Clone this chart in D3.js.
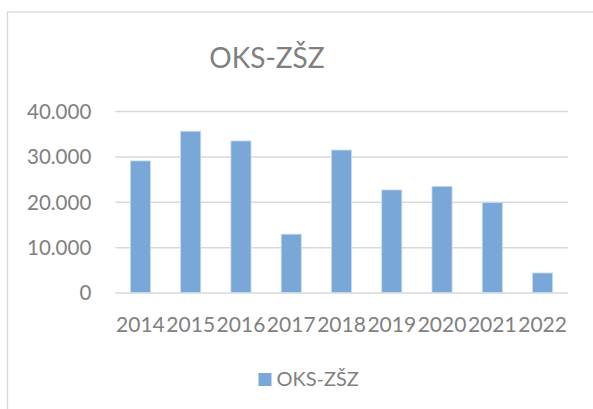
<!DOCTYPE html>
<html>
<head>
<meta charset="utf-8">
<script src="https://cdn.jsdelivr.net/npm/d3@7"></script>
<style>
body{margin:0;background:#fff;}
text{font-family:Lato,"Open Sans",sans-serif;fill:#808080;}
</style>
</head>
<body>
<script>
var years=["2014","2015","2016","2017","2018","2019","2020","2021","2022"];
var values=[29000,35550,33400,12850,31400,22600,23400,19800,4300];
var yticks=[0,10000,20000,30000,40000];
var seriesname="OKS-ZŠZ";

var W=593,H=409;
var plotleft=115.3,plotright=567.7,plottop=111,plotbottom=292.5;
var svg=d3.select("body").append("svg").attr("width",W).attr("height",H);

// chart area frame
svg.append("rect").attr("x",7.5).attr("y",12).attr("width",W).attr("height",H)
	.attr("fill","#fff").attr("stroke","#d9d9d9").attr("stroke-width",1.3);

var x=d3.scaleBand().domain(years).range([plotleft,plotright]).paddingInner(0.6).paddingOuter(0.3);
var y=d3.scaleLinear().domain([0,40000]).range([plotbottom,plottop]);
var fmt=d3.formatLocale({decimal:",",thousands:".",grouping:[3],currency:["",""]}).format(",");

var ga=svg.append("g").attr("transform","translate("+plotleft+",0)")
	.call(d3.axisLeft(y).tickValues(yticks).tickFormat(fmt).tickSize(-(plotright-plotleft)).tickPadding(24));
ga.select(".domain").remove();
ga.selectAll("line").attr("stroke","#d9d9d9").attr("stroke-width",1.5);
ga.selectAll("text").attr("font-size",20.5).attr("fill","#808080").attr("dy","0.36em");

svg.selectAll(".bar").data(values).enter().append("rect").attr("class","bar")
	.attr("x",function(d,i){return x(years[i]);})
	.attr("y",function(d){return y(d);})
	.attr("width",x.bandwidth())
	.attr("height",function(d){return y(0)-y(d);})
	.attr("fill","#78a7d8").attr("stroke","#c9dcf0").attr("stroke-width",0.8);

var gx=svg.append("g").attr("transform","translate(0,"+plotbottom+")")
	.call(d3.axisBottom(x).tickSize(0).tickPadding(0));
gx.select(".domain").remove();
gx.selectAll("text").attr("font-size",21).attr("fill","#808080").attr("dy",null).attr("y",39);

svg.append("text").text(seriesname).attr("x",267).attr("y",68).attr("text-anchor","middle")
	.attr("font-size",28);

svg.append("rect").attr("x",258.5).attr("y",373).attr("width",13).attr("height",13).attr("fill","#78a7d8");
svg.append("text").text(seriesname).attr("x",276.5).attr("y",386).attr("font-size",20);
</script>
</body>
</html>
